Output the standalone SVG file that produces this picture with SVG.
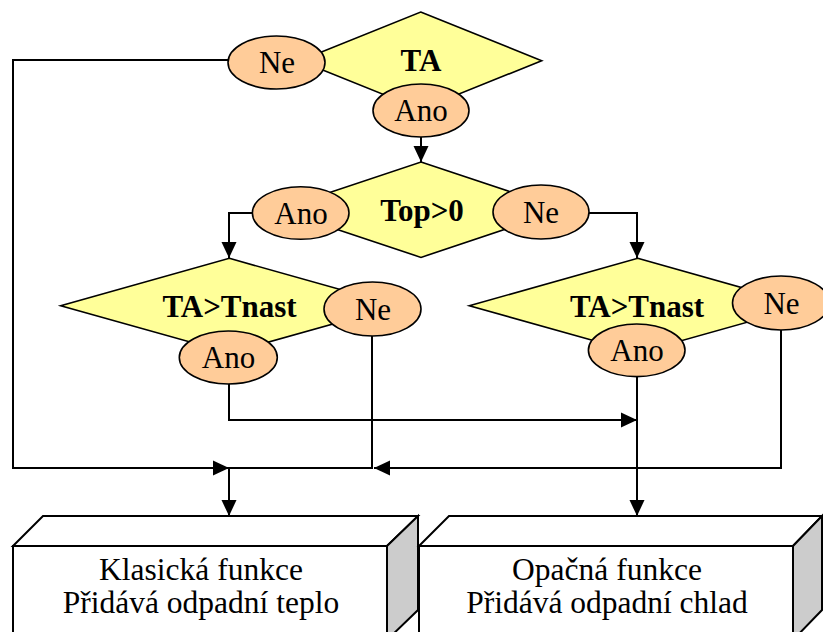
<svg xmlns="http://www.w3.org/2000/svg" width="823" height="632" viewBox="0 0 823 632">
<style>
.dia{fill:#FFFF99;stroke:#000;stroke-width:1.6}
.ell{fill:#FFCC99;stroke:#000;stroke-width:1.6}
.lbl{font-family:"Liberation Serif","Times New Roman",serif;font-size:31px;fill:#000;text-anchor:middle}
.b{font-weight:bold}
.con{fill:none;stroke:#000;stroke-width:2}
.face{fill:#fff;stroke:#000;stroke-width:2}
.side{fill:#CCCCCC;stroke:#000;stroke-width:2}
.box{font-family:"Liberation Serif","Times New Roman",serif;font-size:31.5px;fill:#000;text-anchor:middle}
</style>
<defs>
<marker id="arr" markerUnits="userSpaceOnUse" markerWidth="16" markerHeight="16" viewBox="0 0 16 16" refX="16" refY="8" orient="auto">
<path d="M0,0.5 L16,8 L0,15.5 Z" fill="#000"/>
</marker>
</defs>
<g id="connectors">
<path class="con" d="M228,60 H13 V468 H229" marker-end="url(#arr)"/>
<path class="con" d="M421,137 V162" marker-end="url(#arr)"/>
<path class="con" d="M252,213 H229 V258" marker-end="url(#arr)"/>
<path class="con" d="M589,213 H637 V258" marker-end="url(#arr)"/>
<path class="con" d="M229,384 V420 H637" marker-end="url(#arr)"/>
<path class="con" d="M372,336 V468 H229"/>
<path class="con" d="M637,377 V516" marker-end="url(#arr)"/>
<path class="con" d="M781,330 V468 H374" marker-end="url(#arr)"/>
<path class="con" d="M229,468 V516" marker-end="url(#arr)"/>
</g>
<g id="ta">
<polygon class="dia" points="420.7,12 541.7,60.7 420.7,109.4 299.7,60.7"/>
<text class="lbl b" x="421" y="71">TA</text>
</g>
<g id="ta-ne">
<ellipse class="ell" cx="276.5" cy="62.5" rx="48.5" ry="26.5"/>
<text class="lbl" x="277" y="73">Ne</text>
</g>
<g id="ta-ano">
<ellipse class="ell" cx="421" cy="110.5" rx="48" ry="26.5"/>
<text class="lbl" x="421" y="121">Ano</text>
</g>
<g id="top">
<polygon class="dia" points="421,162 564,209.7 421,257.4 278,209.7"/>
<text class="lbl b" x="422" y="220.7">Top&gt;0</text>
</g>
<g id="top-ano">
<ellipse class="ell" cx="300.7" cy="213" rx="48.3" ry="26.3"/>
<text class="lbl" x="301" y="223.5">Ano</text>
</g>
<g id="top-ne">
<ellipse class="ell" cx="541" cy="212" rx="48" ry="27"/>
<text class="lbl" x="541" y="222.5">Ne</text>
</g>
<g id="tnast-left">
<polygon class="dia" points="229.3,258.3 398,305.7 229.3,353 60.7,305.7"/>
<text class="lbl b" x="229.5" y="316.7">TA&gt;Tnast</text>
</g>
<g id="tnast-left-ne">
<ellipse class="ell" cx="372.5" cy="309" rx="48.5" ry="27"/>
<text class="lbl" x="373" y="319.5">Ne</text>
</g>
<g id="tnast-left-ano">
<ellipse class="ell" cx="228.3" cy="357.5" rx="49" ry="26.5"/>
<text class="lbl" x="228.5" y="368">Ano</text>
</g>
<g id="tnast-right">
<polygon class="dia" points="637.7,258.3 806,305.7 637.7,353 469.3,305.7"/>
<text class="lbl b" x="637" y="316.7">TA&gt;Tnast</text>
</g>
<g id="tnast-right-ne">
<ellipse class="ell" cx="781" cy="303" rx="48.5" ry="27"/>
<text class="lbl" x="781.5" y="313.5">Ne</text>
</g>
<g id="tnast-right-ano">
<ellipse class="ell" cx="636.7" cy="350.3" rx="48.3" ry="26.3"/>
<text class="lbl" x="637" y="361">Ano</text>
</g>
<g id="box-left">
<polygon class="face" points="13,546 43,516 418,516 387,546"/>
<polygon class="side" points="387,546 418,516 418,610 387,640"/>
<rect class="face" x="13" y="546" width="374" height="94"/>
<text class="box" x="201" y="580">Klasická funkce</text>
<text class="box" x="201" y="613">Přidává odpadní teplo</text>
</g>
<g id="box-right">
<polygon class="face" points="419,546 449,516 822,516 793,546"/>
<polygon class="side" points="793,546 822,516 822,610 793,640"/>
<rect class="face" x="419" y="546" width="374" height="94"/>
<text class="box" x="607" y="580">Opačná funkce</text>
<text class="box" x="607" y="613">Přidává odpadní chlad</text>
</g>
</svg>
